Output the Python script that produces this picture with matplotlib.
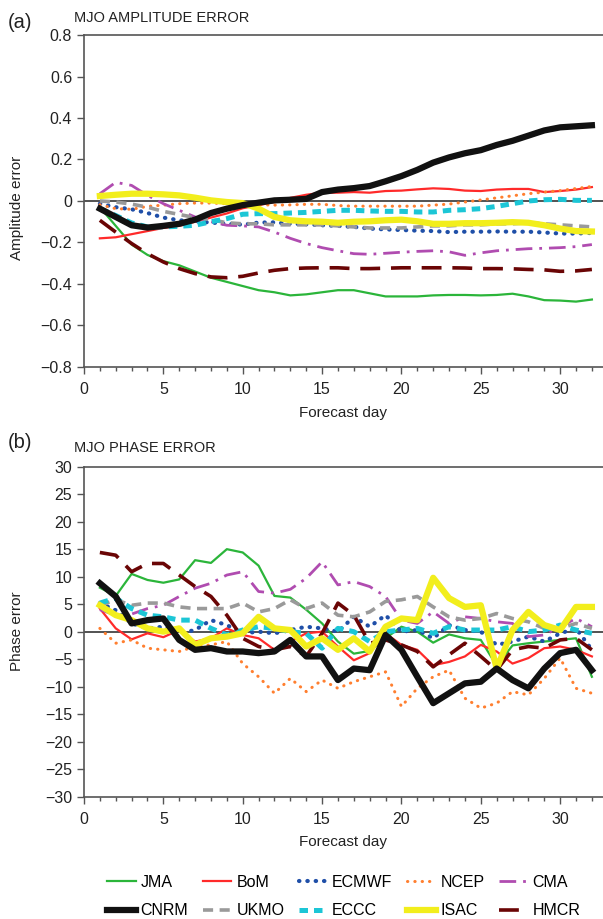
import numpy as np
import matplotlib
matplotlib.use("Agg")
import matplotlib.pyplot as plt
from matplotlib.ticker import MultipleLocator, FuncFormatter

plt.rcParams['font.family'] = ['Liberation Sans', 'DejaVu Sans']

# --- data: forecast days 1..32 ---
days = np.arange(1, 33)
models = ["JMA", "BoM", "ECMWF", "NCEP", "CMA", "CNRM", "UKMO", "ECCC", "ISAC", "HMCR"]

# (a) MJO amplitude error
amp_jma = [-0.03, -0.12, -0.21, -0.26, -0.29, -0.31, -0.34, -0.37, -0.39, -0.41, -0.43, -0.44,
           -0.455, -0.45, -0.44, -0.43, -0.43, -0.445, -0.46, -0.46, -0.46, -0.455, -0.453, -0.453,
           -0.455, -0.453, -0.447, -0.46, -0.478, -0.48, -0.485, -0.475]
amp_bom = [-0.18, -0.175, -0.16, -0.145, -0.13, -0.12, -0.10, -0.08, -0.06, -0.035, -0.02, -0.005,
           0.015, 0.03, 0.04, 0.04, 0.043, 0.04, 0.048, 0.05, 0.056, 0.061, 0.058, 0.05,
           0.048, 0.055, 0.058, 0.058, 0.043, 0.048, 0.055, 0.067]
amp_ecmwf = [-0.013, -0.03, -0.04, -0.058, -0.08, -0.093, -0.098, -0.104, -0.11, -0.114, -0.104, -0.103,
             -0.11, -0.112, -0.117, -0.12, -0.125, -0.133, -0.137, -0.14, -0.143, -0.145, -0.15, -0.148,
             -0.148, -0.147, -0.148, -0.148, -0.152, -0.157, -0.157, -0.154]
amp_ncep = [-0.018, -0.037, -0.04, -0.026, -0.02, -0.013, -0.01, -0.01, -0.013, -0.016, -0.018, -0.02,
            -0.019, -0.016, -0.016, -0.022, -0.025, -0.025, -0.025, -0.025, -0.025, -0.02, -0.015, -0.005,
            0.005, 0.015, 0.025, 0.035, 0.043, 0.05, 0.06, 0.07]
amp_cma = [0.035, 0.09, 0.075, 0.027, -0.013, -0.045, -0.077, -0.10, -0.117, -0.12, -0.125, -0.15,
           -0.18, -0.205, -0.225, -0.24, -0.254, -0.257, -0.252, -0.247, -0.243, -0.24, -0.245, -0.262,
           -0.25, -0.24, -0.235, -0.23, -0.228, -0.225, -0.22, -0.21]
amp_cnrm = [-0.037, -0.077, -0.117, -0.128, -0.12, -0.11, -0.09, -0.058, -0.037, -0.02, -0.008, 0.003,
            0.006, 0.01, 0.043, 0.055, 0.062, 0.072, 0.095, 0.12, 0.15, 0.185, 0.21, 0.23,
            0.245, 0.27, 0.29, 0.315, 0.34, 0.355, 0.36, 0.365]
amp_ukmo = [0.0, -0.005, -0.015, -0.03, -0.05, -0.065, -0.08, -0.09, -0.105, -0.11, -0.11, -0.115,
            -0.115, -0.115, -0.115, -0.12, -0.125, -0.13, -0.13, -0.13, -0.125, -0.12, -0.12, -0.115,
            -0.115, -0.11, -0.11, -0.105, -0.11, -0.115, -0.12, -0.125]
amp_eccc = [-0.037, -0.07, -0.106, -0.125, -0.125, -0.122, -0.117, -0.10, -0.085, -0.064, -0.061, -0.061,
            -0.058, -0.055, -0.05, -0.045, -0.045, -0.048, -0.05, -0.05, -0.053, -0.053, -0.045, -0.042,
            -0.037, -0.026, -0.013, 0.0, 0.006, 0.008, 0.003, 0.003]
amp_isac = [0.024, 0.03, 0.035, 0.035, 0.032, 0.027, 0.016, 0.003, -0.005, -0.01, -0.037, -0.077,
            -0.093, -0.098, -0.10, -0.105, -0.1, -0.098, -0.093, -0.09, -0.098, -0.11, -0.11, -0.107,
            -0.107, -0.105, -0.102, -0.105, -0.117, -0.133, -0.145, -0.147]
amp_hmcr = [-0.093, -0.15, -0.205, -0.254, -0.294, -0.326, -0.35, -0.366, -0.37, -0.363, -0.347, -0.334,
            -0.326, -0.323, -0.322, -0.322, -0.326, -0.326, -0.324, -0.322, -0.322, -0.322, -0.322, -0.323,
            -0.326, -0.326, -0.327, -0.33, -0.332, -0.339, -0.337, -0.33]

# (b) MJO phase error
ph_jma = [8.0, 6.5, 10.5, 9.4, 8.9, 9.5, 13.0, 12.5, 15.0, 14.4, 12.0, 6.5,
          6.2, 4.0, 1.5, -1.8, -4.0, -3.5, -1.2, 0.9, 0.0, -2.0, -0.5, -1.2,
          -1.5, -6.2, -2.5, -2.1, -1.8, -1.5, -1.2, -8.2]
ph_bom = [4.2, 0.6, -1.4, -0.3, -1.0, 0.3, -1.8, -1.2, 0.6, -0.6, -1.2, -3.3,
          -1.8, -0.3, 0.0, -2.7, -5.2, -3.9, -0.3, -2.4, -3.3, -6.1, -5.5, -4.5,
          -2.4, -3.6, -5.8, -4.8, -3.0, -2.7, -3.3, -4.5]
ph_ecmwf = [5.2, 3.9, 1.5, 0.6, 0.9, -0.3, 0.3, 2.1, 1.2, -0.3, 0.0, -0.3,
            0.3, 0.9, 0.6, 0.0, 2.7, 0.9, 3.0, 0.0, 0.3, -1.2, 1.2, 0.3,
            0.0, -2.4, -1.8, -0.9, -1.8, -0.3, 0.6, -3.3]
ph_ncep = [0.6, -2.1, -1.5, -3.0, -3.3, -3.6, -2.7, -2.4, -1.8, -5.8, -8.2, -11.2,
           -8.5, -10.9, -8.8, -10.3, -9.1, -8.2, -7.3, -13.6, -10.3, -8.2, -7.0, -12.1,
           -13.9, -13.0, -10.9, -11.5, -8.5, -4.8, -10.3, -11.2]
ph_cma = [4.0, 3.0, 3.2, 4.2, 4.8, 6.4, 7.9, 8.8, 10.3, 10.9, 7.3, 7.0,
          7.7, 9.7, 12.7, 8.5, 9.1, 8.2, 6.4, 2.1, 1.5, 3.6, 1.5, 2.7,
          2.4, 1.8, 1.5, -0.9, -0.6, 0.9, 2.4, 0.9]
ph_cnrm = [8.8, 6.4, 1.5, 2.1, 2.4, -1.5, -3.3, -3.0, -3.6, -3.6, -3.9, -3.6,
           -1.5, -4.5, -4.5, -8.8, -6.7, -7.0, -0.6, -3.3, -8.2, -13.0, -11.2, -9.4,
           -9.1, -6.7, -8.8, -10.3, -6.7, -3.9, -3.3, -7.0]
ph_ukmo = [4.8, 5.8, 4.8, 5.2, 5.2, 4.5, 4.2, 4.2, 4.2, 5.2, 3.6, 4.2,
           5.8, 4.2, 5.2, 3.0, 2.7, 3.6, 5.5, 5.8, 6.4, 4.5, 2.7, 2.1,
           2.4, 3.3, 2.4, 1.8, 0.6, 0.6, 1.5, 0.6]
ph_eccc = [5.2, 6.1, 4.2, 3.0, 2.7, 2.1, 2.1, 0.6, -0.6, 0.3, 0.9, 0.6,
           0.0, -0.3, -3.0, 0.6, 0.0, -1.8, 0.0, 0.3, 0.6, -0.3, 0.9, 0.3,
           0.3, 0.3, 0.9, 0.0, 0.3, 1.2, 0.3, -0.3]
ph_isac = [4.8, 3.0, 2.1, 0.6, 0.0, 0.6, -2.4, -1.2, -0.9, -0.3, 2.7, 0.6,
           0.3, -2.7, -1.2, -3.3, -1.2, -3.6, 0.9, 2.4, 2.1, 9.8, 6.1, 4.5,
           4.8, -6.7, 0.3, 3.6, 1.2, 0.3, 4.5, 4.5]
ph_hmcr = [14.4, 13.9, 10.9, 12.4, 12.4, 10.3, 8.2, 6.4, 3.0, -1.2, -2.7, -3.3,
           -2.7, -4.5, -0.3, 5.2, 3.0, -2.1, -1.5, -2.4, -3.6, -6.4, -4.2, -2.1,
           -4.5, -7.0, -3.3, -2.7, -3.0, -1.5, -1.2, -3.3]

amp_series = [amp_jma, amp_bom, amp_ecmwf, amp_ncep, amp_cma,
              amp_cnrm, amp_ukmo, amp_eccc, amp_isac, amp_hmcr]
ph_series = [ph_jma, ph_bom, ph_ecmwf, ph_ncep, ph_cma,
             ph_cnrm, ph_ukmo, ph_eccc, ph_isac, ph_hmcr]

# --- line styles per model ---
styles = {
    "JMA":   dict(color="#2bb53a", lw=1.6, ls="-"),
    "BoM":   dict(color="#ff2a2a", lw=1.6, ls="-"),
    "ECMWF": dict(color="#1f4fa8", lw=3.0, ls=(0, (0.1, 1.9)), dash_capstyle="round"),
    "NCEP":  dict(color="#ff7f2f", lw=2.2, ls=(0, (0.1, 2.3)), dash_capstyle="round"),
    "CMA":   dict(color="#b04cb0", lw=2.0, ls=(0, (6, 2.5, 1, 2.5))),
    "CNRM":  dict(color="#111111", lw=4.5, ls="-"),
    "UKMO":  dict(color="#9a9a9a", lw=2.6, ls=(0, (2.8, 1.8))),
    "ECCC":  dict(color="#1cc6d6", lw=3.6, ls=(0, (1.7, 1.2))),
    "ISAC":  dict(color="#f2ee1c", lw=4.5, ls="-"),
    "HMCR":  dict(color="#6a0505", lw=2.6, ls=(0, (5.5, 3))),
}
zorders = {"ISAC": 3, "CNRM": 4}

spine_col = "#555555"


def minus_fmt(fmt):
    return FuncFormatter(lambda v, p: ("0" if abs(v) < 1e-9 else fmt.format(v)).replace("-", "\u2212"))


def style_axes(ax, ylim, ystep, yfmt, ylabel):
    ax.set_xlim(0, 32.7)
    ax.set_ylim(*ylim)
    ax.xaxis.set_major_locator(MultipleLocator(5))
    ax.xaxis.set_minor_locator(MultipleLocator(1))
    ax.yaxis.set_major_locator(MultipleLocator(ystep))
    ax.yaxis.set_major_formatter(minus_fmt(yfmt))
    ax.spines["right"].set_visible(False)
    for s in ["left", "top", "bottom"]:
        ax.spines[s].set_color(spine_col)
        ax.spines[s].set_linewidth(1.2)
    ax.tick_params(axis="both", which="major", direction="out", length=5, width=1,
                   color=spine_col, labelsize=11.5, labelcolor="#222222")
    ax.tick_params(axis="x", which="major", pad=6)
    ax.tick_params(axis="x", which="minor", direction="out", length=3, width=1, color=spine_col)
    ax.axhline(0, color="#444444", lw=1.3, zorder=1)
    ax.set_xlabel("Forecast day", fontsize=11, color="#222222", labelpad=6)
    ax.set_ylabel(ylabel, fontsize=11, color="#222222")


fig = plt.figure(figsize=(6.03, 9.19), dpi=100)
ax_a = fig.add_axes([0.1393, 0.6007, 0.8607, 0.3612])
ax_b = fig.add_axes([0.1393, 0.1331, 0.8607, 0.3591])

handles = {}
for name, ya, yb in zip(models, amp_series, ph_series):
    st = styles[name]
    z = zorders.get(name, 2)
    h, = ax_a.plot(days, ya, label=name, zorder=z, **st)
    ax_b.plot(days, yb, zorder=z, **st)
    handles[name] = h

style_axes(ax_a, (-0.8, 0.8), 0.2, "{:.1f}", "Amplitude error")
style_axes(ax_b, (-30, 30), 5, "{:.0f}", "Phase error")
ax_a.yaxis.set_label_coords(-0.115, 0.48)
ax_b.yaxis.set_label_coords(-0.115, 0.5)

fig.text(0.013, 0.976, "(a)", fontsize=14.5, color="#222222", va="center")
fig.text(0.123, 0.9805, "MJO AMPLITUDE ERROR", fontsize=10.5, color="#222222", va="center")
fig.text(0.013, 0.518, "(b)", fontsize=14.5, color="#222222", va="center")
fig.text(0.123, 0.5125, "MJO PHASE ERROR", fontsize=10.5, color="#222222", va="center")

# legend: two rows, filled column by column
order = ["JMA", "CNRM", "BoM", "UKMO", "ECMWF", "ECCC", "NCEP", "ISAC", "CMA", "HMCR"]
fig.legend([handles[n] for n in order], order, loc="center", ncol=5,
           bbox_to_anchor=(0.57, 0.0245), frameon=False, fontsize=11.5,
           handlelength=1.8, handletextpad=0.3, columnspacing=0.9, labelspacing=0.85)

fig.savefig("out.png", dpi=100)
